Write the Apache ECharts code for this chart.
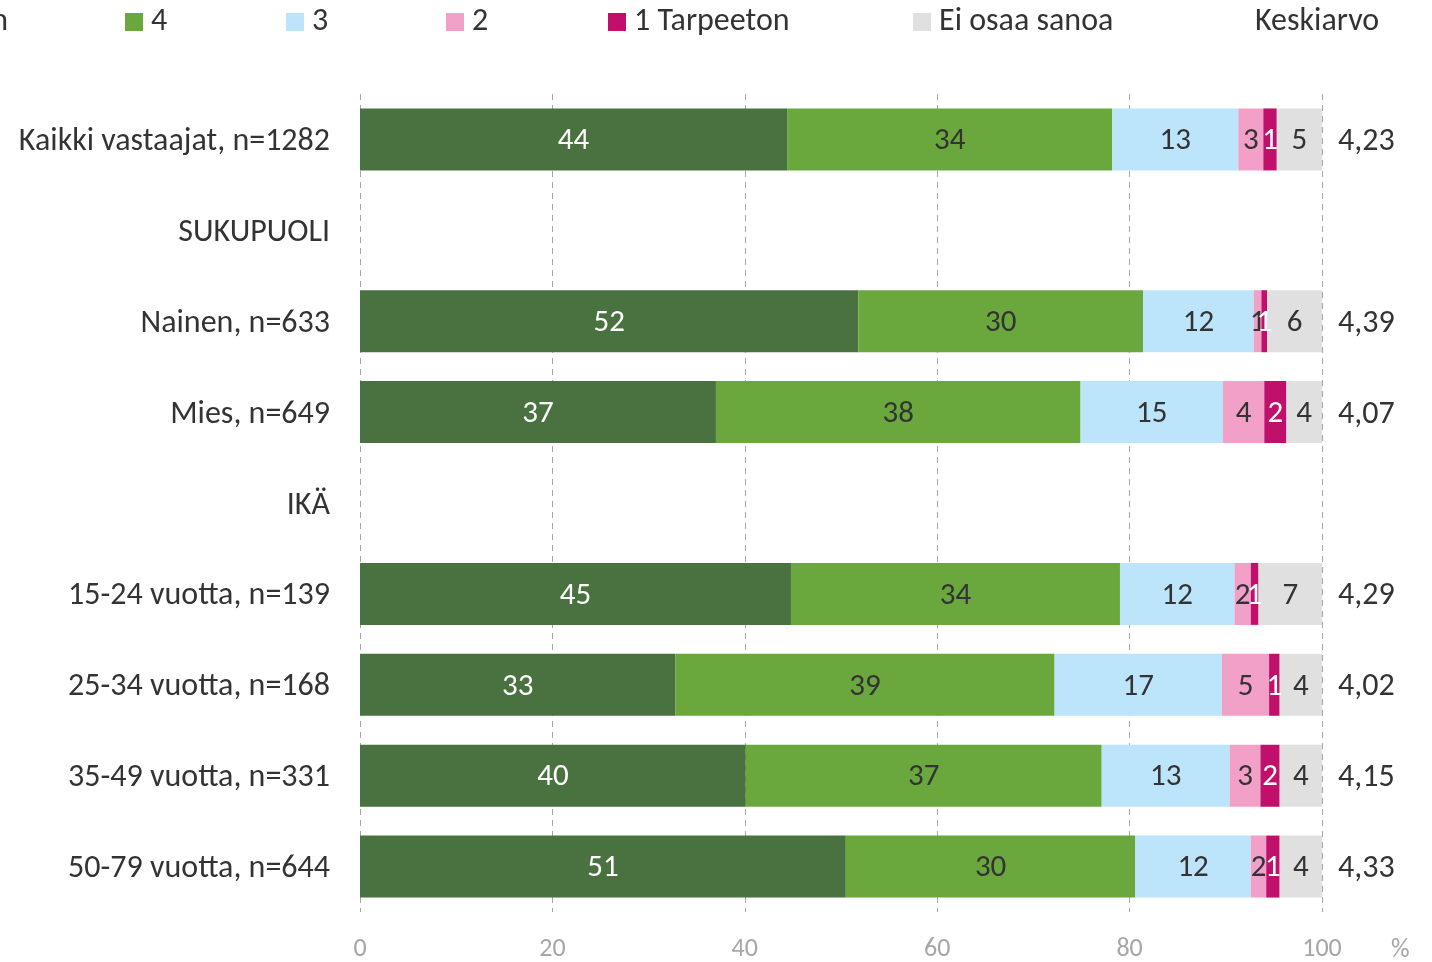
<!DOCTYPE html>
<html>
<head>
<meta charset="utf-8">
<script src="https://cdn.jsdelivr.net/npm/echarts@6/dist/echarts.min.js"></script>
<style>
html,body{margin:0;padding:0;background:#fff;}
#chart{width:1432px;height:962px;}
</style>
</head>
<body>
<div id="chart"></div>
<script>
const categories = ['Kaikki vastaajat, n=1282','SUKUPUOLI','Nainen, n=633','Mies, n=649','IKÄ','15-24 vuotta, n=139','25-34 vuotta, n=168','35-49 vuotta, n=331','50-79 vuotta, n=644'];
const seriesNames = ['5 Erittäin tarpeellinen','4','3','2','1 Tarpeeton','Ei osaa sanoa'];
const s5   = [44.4, null, 51.8, 37.0, null, 44.8, 32.8, 40.1, 50.5];
const s4   = [33.8, null, 29.6, 37.9, null, 34.2, 39.4, 37.0, 30.1];
const s3   = [13.1, null, 11.5, 14.8, null, 11.9, 17.4, 13.3, 12.0];
const s2   = [2.6,  null, 0.8,  4.3,  null, 1.7,  4.9,  3.2,  1.6];
const s1   = [1.4,  null, 0.6,  2.3,  null, 0.8,  1.1,  2.0,  1.4];
const sEOS = [4.7,  null, 5.7,  3.7,  null, 6.6,  4.4,  4.4,  4.4];
const means = [4.23, null, 4.39, 4.07, null, 4.29, 4.02, 4.15, 4.33];
const xTicks = [0, 20, 40, 60, 80, 100];

const FONT = "Carlito, 'Open Sans', sans-serif";
const colors = ['#4a7140', '#6aa83e', '#bce4fa', '#f2a0c8', '#c0106c', '#e0e0e0'];
const labelColors = ['#ffffff', '#333333', '#333333', '#333333', '#ffffff', '#333333'];
const values = [s5, s4, s3, s2, s1, sEOS];

const chart = echarts.init(document.getElementById('chart'));

const series = values.map((arr, i) => ({
  name: seriesNames[i],
  type: 'bar',
  stack: 'total',
  barWidth: 62,
  data: arr,
  itemStyle: { color: colors[i] },
  label: {
    show: true,
    position: 'inside',
    offset: [0, 2],
    color: labelColors[i],
    fontFamily: FONT,
    fontSize: 31,
    formatter: p => (p.value == null ? '' : String(Math.round(p.value)))
  },
  emphasis: { disabled: true },
  animation: false
}));

const legendLefts = [null, 125, 286, 446, 608, 913];
const legends = seriesNames.map((n, i) => {
  const l = {
    data: [n],
    top: 6,
    padding: 0,
    itemWidth: 18,
    itemHeight: 18,
    icon: 'rect',
    textStyle: { fontFamily: FONT, fontSize: 32, color: '#333', padding: [0, 0, 0, 3] }
  };
  if (legendLefts[i] == null) l.right = 1424; else l.left = legendLefts[i];
  return l;
});

const richLabel = { t: { fontSize: 32, fontFamily: FONT, color: '#333', padding: [5, 0, 0, 0] } };

chart.setOption({
  animation: false,
  textStyle: { fontFamily: FONT },
  legend: legends,
  grid: { left: 360, right: 110, top: 94, bottom: 49, containLabel: false },
  xAxis: {
    type: 'value',
    min: 0, max: 100, interval: 20,
    axisLine: { show: false },
    axisTick: { show: false },
    splitLine: { show: true, lineStyle: { type: [6, 5], color: '#a6a6a6', width: 1 } },
    axisLabel: {
      color: '#a6a6a6', fontSize: 26, fontFamily: FONT, margin: 24,
      formatter: v => (xTicks.indexOf(v) >= 0 ? String(v) : '')
    }
  },
  yAxis: [
    {
      type: 'category',
      data: categories,
      inverse: true,
      axisLine: { show: false },
      axisTick: { show: false },
      axisLabel: {
        color: '#333', fontSize: 32, fontFamily: FONT, margin: 30,
        rich: richLabel,
        formatter: v => '{t|' + v + '}'
      }
    },
    {
      type: 'category',
      data: categories,
      inverse: true,
      position: 'right',
      axisLine: { show: false },
      axisTick: { show: false },
      axisLabel: {
        color: '#333', fontSize: 32, fontFamily: FONT, margin: 16,
        rich: richLabel,
        formatter: (v, idx) => (means[idx] == null ? '' : '{t|' + means[idx].toFixed(2).replace('.', ',') + '}')
      }
    }
  ],
  graphic: [
    { type: 'text', x: 1255, y: 22, style: { text: 'Keskiarvo', fontSize: 32, fontFamily: FONT, fill: '#333', verticalAlign: 'middle' } },
    { type: 'text', x: 1391, y: 950, style: { text: '%', fontSize: 26, fontFamily: FONT, fill: '#a6a6a6', verticalAlign: 'middle' } }
  ],
  series: series
});
</script>
</body>
</html>
